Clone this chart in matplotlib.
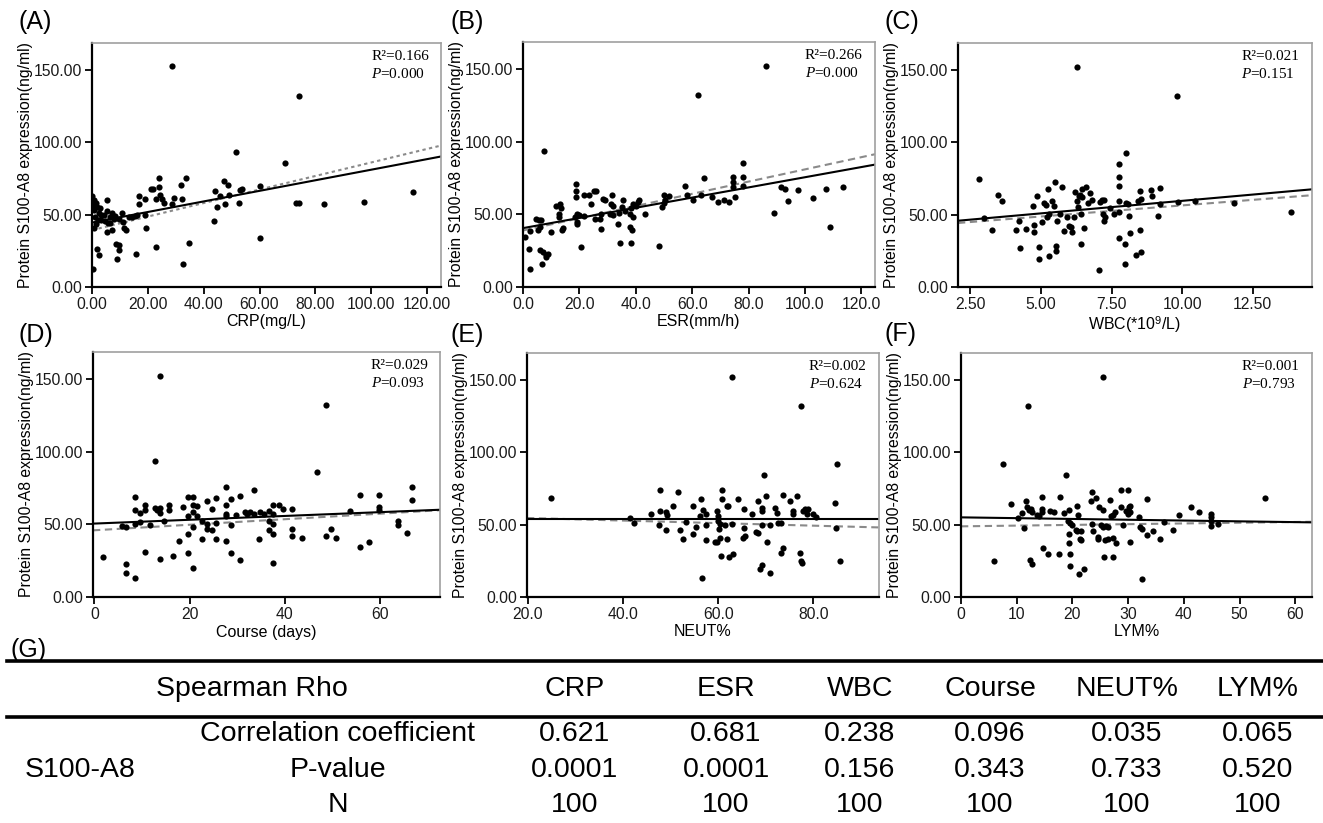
import matplotlib.pyplot as plt
import matplotlib.ticker as mticker
from matplotlib.lines import Line2D

plt.rcParams['font.family'] = 'Liberation Sans'
plt.rcParams['mathtext.fontset'] = 'custom'
plt.rcParams['mathtext.rm'] = 'Liberation Serif'
plt.rcParams['mathtext.it'] = 'Liberation Serif:italic'
plt.rcParams['mathtext.sf'] = 'Liberation Sans'

W, H = 1323, 823

# ---- données (x, S100-A8 ng/ml) ----
crp_pts = [(28.5, 152.4), (74.3, 132), (51.7, 93), (69, 85.5), (115, 65.4), (83, 57.3), (97.5, 58.4),
           (73, 58), (74, 58), (60, 70), (60, 34), (43.6, 45.7), (44, 66.5), (44.6, 55.4), (45.7, 62.8),
           (47.4, 73), (47.6, 57), (48.6, 70.4), (49, 63.3), (52.8, 58.2), (53, 67), (53.8, 68),
           (33.6, 75), (32, 70.2), (32.4, 60.5), (32.7, 16.2), (34.9, 30.3), (24, 75), (23.9, 68.8),
           (24.5, 63.5), (25, 60.5), (25.8, 57.7), (29.3, 61.2), (28.5, 57.3), (23.1, 60.5), (22.8, 27.5),
           (21.2, 68), (22, 67.4), (17, 62.8), (16.9, 57.3), (19, 60.5), (19, 49.7), (19.2, 40.9),
           (15.6, 23), (14.4, 48.5), (15.5, 49), (16.2, 50), (11.6, 40.4), (12.3, 39.7), (10.6, 50.8),
           (9.6, 47.3), (9.1, 19.6), (8.6, 30), (9.6, 25.4), (9.8, 28.9), (7.8, 47.3), (7.2, 50.8),
           (6.4, 48.5), (5.4, 60), (5.5, 38), (4.8, 45.5), (5.6, 44.3), (3.4, 46.2), (3.4, 49.7),
           (2.5, 50.8), (1.9, 55.4), (0.8, 60), (1.6, 58.2), (0.1, 62.8), (0.6, 56.6), (1.8, 25.9),
           (2.5, 22.4), (0.6, 40.4), (0.2, 12.7), (1.2, 48.5), (2, 46.6), (4.2, 49.7), (5.2, 52.4),
           (6.6, 44.3), (8.4, 49), (11.2, 45), (13.2, 48.5), (0.8, 53), (3, 54.3), (1.3, 43.4), (7.2, 39.3)]

esr_pts = [(86, 152), (62, 132), (7.4, 93.4), (78, 85.4), (64, 75.3), (74.4, 75.5), (74.4, 72), (74.4, 68.6),
           (78, 75.5), (78, 69.8), (57.3, 69.8), (58, 63), (60.2, 60), (63, 63.6), (67, 61.8), (69, 58.4),
           (71.2, 60), (73, 58.6), (75.2, 62.2), (50, 63), (50.5, 60), (51.7, 62.5), (50, 58), (49.3, 55),
           (48.2, 28.1), (89, 50.8), (91.4, 68.6), (92.8, 67.5), (93.9, 59), (97.6, 66.4), (102.7, 61),
           (107.5, 67.3), (108.9, 41.4), (113.6, 69), (43.4, 50), (41.3, 60), (40.7, 58.4), (40.1, 56),
           (39, 57.2), (38.4, 54.5), (38, 50.3), (39, 48), (37.8, 41.2), (38.7, 39.4), (38.4, 30.2),
           (34.5, 30.2), (33.6, 43), (35.4, 60), (35.2, 55), (34.2, 50.8), (36, 52), (31.5, 63.6),
           (31.3, 57.2), (31.9, 56), (30.7, 50.3), (31.9, 49.2), (28.3, 60.2), (29.2, 60), (27.7, 49.9),
           (27.2, 47), (27.5, 39.6), (25.3, 65.7), (26, 65.7), (23.4, 63.4), (25.4, 47), (24.2, 56.8),
           (21.5, 63.4), (20.7, 27.5), (20, 49.2), (18.7, 70.5), (18.7, 65.9), (18.7, 61.8), (19, 50.3),
           (18.5, 48), (19.2, 44.6), (19, 43.5), (21.5, 48.7), (14.2, 40.5), (13.7, 38.9), (13, 57.2),
           (13.6, 54.5), (12.8, 50.3), (12.8, 48), (11.6, 55.6), (10, 37.8), (6.5, 46.2), (5.9, 41.2),
           (5.3, 38.9), (4.7, 46.9), (5.7, 46.2), (5.9, 25.2), (7.1, 24), (8.3, 20.6), (8.9, 22.9),
           (6.8, 16), (8, 21.7), (2.6, 38.2), (2, 26.3), (2.6, 12.6), (0.8, 34.3)]

wbc_pts = [(6.27, 152), (9.81, 132), (8.0, 92.7), (7.78, 85), (7.78, 76), (7.78, 70), (2.8, 74.8), (2.97, 47.4),
           (3.27, 39.6), (3.47, 63.4), (3.61, 59.5), (4.13, 39.4), (4.21, 45.8), (4.25, 26.8), (4.48, 40),
           (4.72, 55.6), (4.74, 43), (4.74, 37.8), (4.86, 62.5), (4.93, 27.5), (4.93, 19), (5.02, 45),
           (5.09, 57.7), (5.18, 56.5), (5.21, 48), (5.25, 68), (5.27, 50.3), (5.29, 21.5), (5.39, 59.5),
           (5.47, 56), (5.51, 72.5), (5.53, 28.6), (5.53, 25.2), (5.57, 45.8), (5.66, 50.3), (5.74, 69.3),
           (5.83, 38.9), (5.92, 48), (5.99, 41.9), (6.06, 41.2), (6.1, 37.8), (6.18, 48), (6.21, 65.7),
           (6.27, 59.5), (6.3, 55.4), (6.33, 62.9), (6.37, 63.4), (6.42, 50.3), (6.42, 29.7), (6.45, 68),
           (6.47, 62.2), (6.53, 40.7), (6.59, 69.3), (6.65, 57.7), (6.72, 64.8), (6.8, 60.2), (7.04, 11.9),
           (7.08, 58.4), (7.16, 60.2), (7.2, 50.3), (7.22, 45.3), (7.24, 60.2), (7.28, 48), (7.45, 54.9),
           (7.59, 50.3), (7.78, 59.5), (7.78, 51.5), (7.78, 33.6), (7.96, 15.6), (7.98, 29.7), (8.0, 57.9),
           (8.1, 49.2), (8.07, 57.2), (8.16, 37.3), (8.36, 22.4), (8.42, 59.5), (8.51, 66.4), (8.51, 39.6),
           (8.54, 24.5), (8.55, 61.1), (8.89, 67), (8.93, 62.9), (9.16, 49.2), (9.2, 68.2), (9.2, 57.2),
           (9.85, 58.4), (10.46, 59.5), (11.84, 57.9), (13.84, 51.5)]

course_pts = [(13.7, 152.3), (12.7, 93.3), (48.7, 132.3), (46.7, 85.8), (1.7, 27.5), (6.6, 22.7), (6.6, 16.5),
              (8.6, 12.8), (5.7, 48.6), (6.7, 48.2), (8.6, 69), (8.6, 60), (8.6, 50.2), (9.6, 57.8), (9.6, 51.4),
              (10.6, 63.5), (10.6, 60), (10.6, 30.7), (11.7, 49.8), (12.7, 61.2), (13.1, 60), (13.7, 57.8),
              (13.8, 61.2), (13.7, 26.1), (14.6, 52.5), (15.6, 63.5), (15.6, 60), (16.6, 28.4), (17.8, 38.8),
              (18.7, 61.7), (19.6, 69), (20.7, 69), (19.6, 56), (19.6, 43.3), (19.6, 30.3), (20.7, 58.3),
              (20.7, 63.5), (20.7, 47.9), (20.7, 20), (21.6, 62.4), (21.6, 55.5), (22.7, 52), (22.7, 40),
              (23.6, 65.8), (23.6, 50.2), (23.6, 46.8), (24.6, 60.5), (24.6, 45.9), (25.6, 68.1), (25.6, 50.9),
              (25.6, 40), (27.7, 75.5), (27.7, 63.5), (27.7, 57.1), (27.7, 55.5), (27.7, 38.3), (28.6, 67.4),
              (28.6, 49.3), (28.6, 30.3), (29.7, 56.7), (30.6, 69.7), (30.6, 25.2), (31.7, 58.3), (32.1, 57.1),
              (32.7, 58.3), (33.6, 73.4), (33.6, 57.1), (34.6, 39.9), (34.7, 58.3), (35.7, 57.1), (36.6, 59.4),
              (36.6, 52), (36.6, 45.9), (37.6, 63.5), (37.6, 57.1), (37.6, 50.2), (37.6, 43.3), (37.6, 23.4),
              (38.7, 63.5), (39.6, 60.6), (41.5, 60.6), (41.5, 46.8), (41.5, 41.7), (43.6, 40.6), (48.7, 41.7),
              (49.7, 46.8), (50.8, 40.6), (53.7, 58.9), (55.7, 70), (55.7, 34.2), (57.7, 37.8), (59.7, 70),
              (59.7, 61.7), (59.7, 60), (63.7, 52), (63.7, 49.8), (65.6, 44), (66.7, 75.5), (66.7, 67)]

neut_pts = [(63, 152), (77.4, 132), (84.9, 92), (69.7, 84.5), (24.9, 68.3), (41.5, 54.8), (42.2, 50.9),
            (45.8, 57.5), (47.7, 74.2), (47.7, 59.4), (47.5, 49.5), (49.1, 58.7), (49.3, 56.4), (49.1, 46.3),
            (50.5, 62.8), (51.5, 72.4), (51.9, 46.3), (52.5, 40), (53.2, 51.8), (54.6, 62.8), (54.7, 43.4),
            (55.4, 48.4), (56.4, 68), (56.5, 13), (56.1, 55.9), (56.9, 59.8), (57.5, 57), (57.5, 39.5),
            (57.5, 49.5), (59.3, 38.1), (59.8, 38.1), (59.8, 59.4), (60, 55.9), (60, 52.5), (60.3, 50.2),
            (60.1, 46.8), (60.3, 41), (60.6, 28.5), (60.8, 74.2), (60.7, 67.4), (61.5, 49.5), (61.9, 62.8),
            (62.1, 62.8), (61.8, 40), (62.3, 27.4), (63.2, 29.7), (63, 50.2), (64.2, 68), (65.4, 60.5),
            (65.4, 47.5), (65.3, 41), (65.6, 42.2), (67.2, 57), (67.9, 45), (68.4, 44.5), (68.3, 66.2),
            (68.8, 19.4), (69.1, 22.1), (69.1, 61.6), (69.1, 59.4), (69.3, 49.5), (70, 69.6), (70.2, 37.7),
            (70.9, 49.5), (70.9, 16.7), (71.9, 61.6), (72.4, 58.2), (72.6, 51.4), (73.3, 51.4), (73.3, 30.1),
            (73.7, 33.6), (73.7, 70.1), (75.1, 66.2), (75.8, 59.4), (75.8, 57), (76.6, 69.6), (77.2, 30.1),
            (77.5, 25.1), (77.7, 23.3), (77.9, 59.4), (78.2, 61), (78.6, 57.5), (78.8, 61), (80, 57.5),
            (80.5, 55.3), (84.6, 64.6), (84.8, 47.9), (85.6, 25.1)]

lym_pts = [(25.4, 152), (12.1, 132), (7.5, 92), (18.9, 84.3), (6, 24.8), (9, 64.5), (10.3, 54.4), (11, 57.9),
           (11.3, 47.8), (11.6, 66.5), (11.9, 62), (12.2, 60.1), (12.5, 60.8), (12.8, 58.5), (12.4, 25.5),
           (12.8, 22.8), (13.7, 56.7), (14, 55.8), (14.5, 68.8), (14.5, 60.8), (14.6, 58.5), (14.7, 33.5),
           (15.6, 30), (16, 59.7), (16.7, 58.5), (17.5, 30), (17.8, 69.2), (18.4, 57.9), (19.2, 52.8),
           (19.5, 51), (19.4, 60.4), (19.3, 43.3), (19.4, 37.4), (19.6, 29.4), (19.6, 21.6), (20, 49.9),
           (20.6, 46.5), (20.9, 45.3), (20.9, 62.6), (21, 56.7), (21.2, 15.9), (21.3, 40.3), (21.5, 39.2),
           (21.6, 45.3), (22.1, 19.4), (23.3, 66.5), (23.6, 72.2), (23.6, 50.1), (23.7, 45.6), (24.2, 68.1),
           (24.5, 41.5), (24.6, 39.9), (24.8, 62), (25.1, 49.4), (25.4, 48.3), (25.4, 60.1), (25.7, 27.3),
           (25.8, 39.2), (26, 49), (26.3, 48.3), (26.3, 40.3), (26.7, 67), (27, 55.6), (27.2, 56.7),
           (27.2, 41), (27.3, 27.8), (27.6, 59), (27.9, 37.4), (28.7, 62.4), (28.8, 74), (29.1, 49.4),
           (29.6, 59.7), (29.9, 57.4), (30.1, 62), (29.9, 74), (30.3, 62.6), (30.3, 59), (30.4, 38),
           (31.9, 55.1), (32.1, 48.3), (32.4, 47.2), (32.5, 12.5), (33.4, 67.7), (33.4, 43), (34.5, 45.6),
           (35.8, 39.9), (36.4, 51.7), (38, 46), (39.2, 56.3), (41.2, 62.4), (42.8, 59), (44.9, 57.4),
           (44.9, 55.1), (44.9, 52.8), (44.9, 49), (46.1, 50.1), (54.5, 68.1)]

# droites : (ordonnée à l'origine, pente) pour la régression (trait plein) et l'ajustement (tirets)
fit_lin = [(44.5, 0.365), (40.5, 0.35), (42.2, 1.73), (50.5, 0.131), (54.0, 0.0), (55.0, -0.055)]
fit_dash = [(39.3, 0.467), (38.9, 0.42), (41.05, 1.53), (45.9, 0.19), (56.3, -0.088), (48.8, 0.05)]

r2_vals = ['0.166', '0.266', '0.021', '0.029', '0.002', '0.001']
p_vals = ['0.000', '0.000', '0.151', '0.093', '0.624', '0.793']

x_labels = ['CRP(mg/L)', 'ESR(mm/h)', r'WBC(*10$^{\mathsf{9}}$/L)', 'Course (days)', 'NEUT%', 'LYM%']
panel_tags = ['(A)', '(B)', '(C)', '(D)', '(E)', '(F)']

# tableau (G)
tbl_cols = ['CRP', 'ESR', 'WBC', 'Course', 'NEUT%', 'LYM%']
tbl_rows = ['Correlation coefficient', 'P-value', 'N']
rho = ['0.621', '0.681', '0.238', '0.096', '0.035', '0.065']
p_spear = ['0.0001', '0.0001', '0.156', '0.343', '0.733', '0.520']
n_obs = ['100', '100', '100', '100', '100', '100']

all_pts = [crp_pts, esr_pts, wbc_pts, course_pts, neut_pts, lym_pts]

# mise en page (pixels) : gauche, droite, haut, bas
boxes = [(92, 441, 43, 287), (523, 875, 42, 287), (958, 1312, 43, 287),
         (93, 440, 352, 597), (527, 879, 353, 597), (961, 1312, 353, 597)]
xlims = [(0, 125), (0, 124.8), (2.06, 14.6), (-0.3, 72.6), (19.8, 93.8), (0, 63)]
xticks = [range(0, 121, 20), range(0, 121, 20), [2.5, 5, 7.5, 10, 12.5],
          range(0, 61, 20), range(20, 81, 20), range(0, 61, 10)]
xfmts = ['%.2f', '%.1f', '%.2f', '%d', '%.1f', '%d']
tag_pos = [(18, 22), (450, 22), (885, 22), (18, 335), (450, 335), (885, 334)]

fig = plt.figure(figsize=(W / 100, H / 100), dpi=100)

# calque en pixels pour les textes et le tableau
bg = fig.add_axes([0, 0, 1, 1])
bg.set_xlim(0, W)
bg.set_ylim(H, 0)
bg.axis('off')

for i in range(6):
    l, r, t, b = boxes[i]
    ax = fig.add_axes([l / W, 1 - b / H, (r - l) / W, (b - t) / H])
    xs = [p[0] for p in all_pts[i]]
    ys = [p[1] for p in all_pts[i]]
    ax.scatter(xs, ys, s=20, color='black', linewidths=0, zorder=3)

    x0, x1 = xlims[i]
    ax.set_xlim(x0, x1)
    ax.set_ylim(0, 168.5)

    a, k = fit_dash[i]
    dash = (1.6, 1.6) if i == 0 else (3.5, 2.2)
    ax.plot([x0, x1], [a + k * x0, a + k * x1], color='#8a8a8a', lw=1.5, dashes=dash, zorder=2)
    a, k = fit_lin[i]
    ax.plot([x0, x1], [a + k * x0, a + k * x1], color='black', lw=1.5, zorder=2)

    ax.set_yticks([0, 50, 100, 150])
    ax.yaxis.set_major_formatter(mticker.FormatStrFormatter('%.2f'))
    ax.set_xticks(list(xticks[i]))
    ax.xaxis.set_major_formatter(mticker.FormatStrFormatter(xfmts[i]))
    ax.tick_params(direction='out', length=5, width=1.3, labelsize=11.3,
                   labelcolor='#1a1a1a', pad=2)

    for s in ['left', 'bottom']:
        ax.spines[s].set_linewidth(1.6)
        ax.spines[s].set_color('black')
    for s in ['top', 'right']:
        ax.spines[s].set_linewidth(1.2)
        ax.spines[s].set_color('#a0a0a0')

    ax.set_xlabel(x_labels[i], fontsize=11.5, labelpad=2)
    ax.set_ylabel('Protein S100-A8 expression(ng/ml)', fontsize=11.3, labelpad=0.5)

    ax.text(0.80, 0.943, 'R\u00b2=' + r2_vals[i], transform=ax.transAxes,
            fontsize=11, family='Liberation Serif', va='center', ha='left')
    ax.text(0.80, 0.873, r'$\mathit{P}$=' + p_vals[i], transform=ax.transAxes,
            fontsize=11, family='Liberation Serif', va='center', ha='left')

    bg.text(tag_pos[i][0], tag_pos[i][1], panel_tags[i], fontsize=18, ha='left', va='center')

# ---- tableau (G) ----
bg.text(10, 650, '(G)', fontsize=18, ha='left', va='center')
bg.add_line(Line2D([7, W], [661, 661], color='black', lw=2.6))
bg.add_line(Line2D([7, W], [717, 717], color='black', lw=2.6))

col_x = [575, 726, 860, 990, 1127, 1258]
row_y = [734, 770, 805]
fs = 20.5
bg.text(252, 689, 'Spearman Rho', fontsize=fs, ha='center', va='center')
for j, c in enumerate(tbl_cols):
    bg.text(col_x[j], 689, c, fontsize=fs, ha='center', va='center')
bg.text(80, row_y[1], 'S100-A8', fontsize=fs, ha='center', va='center')
for r_i, (lab, vals) in enumerate(zip(tbl_rows, [rho, p_spear, n_obs])):
    bg.text(338, row_y[r_i], lab, fontsize=fs, ha='center', va='center')
    for j, v in enumerate(vals):
        bg.text(col_x[j], row_y[r_i], v, fontsize=fs, ha='center', va='center')

fig.savefig('out.png', dpi=100)
